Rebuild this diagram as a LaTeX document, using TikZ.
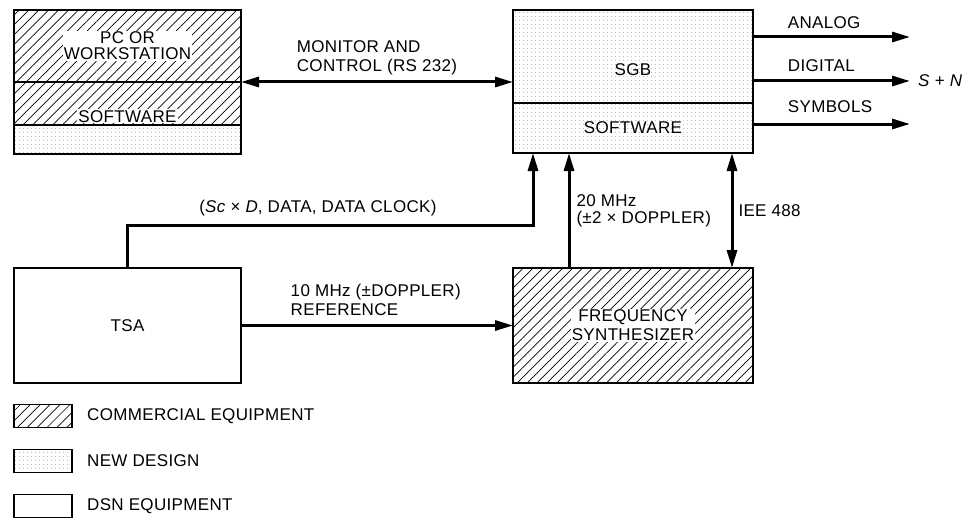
\documentclass[tikz,border=0pt]{standalone}
\usepackage{fontspec}
\setmainfont{Liberation Sans}[LetterSpace=2]
\usetikzlibrary{positioning,patterns.meta,arrows.meta}

\begin{document}
\begin{tikzpicture}[x=1pt, y=-1pt, font=\fontsize{17}{19}\selectfont,
    >={Triangle[length=18pt, width=10pt]},
    box/.style={rectangle, draw=black, line width=1.3pt, inner sep=0pt, outer sep=0pt},
    commbox/.style={box, pattern={Lines[angle=45, distance=7pt, line width=0.7pt]}},
    newbox/.style={box, pattern={Dots[distance=4pt, radius=0.5pt]}, pattern color=black!45},
    dsnbox/.style={box, fill=white},
    knock/.style={fill=white, inner sep=1pt, align=center},
    lbl/.style={inner sep=2pt, align=left},
    link/.style={line width=3pt},]
    \useasboundingbox (0,0) rectangle (973,524);
    % nodes
    \node[commbox, minimum width=227pt, minimum height=72pt]                    (pc)     at (127.5,46) {};
    \node[commbox, minimum width=227pt, minimum height=43pt, below=0pt of pc]   (pcsw)   {};
    \node[newbox,  minimum width=227pt, minimum height=29pt, below=0pt of pcsw] (pcnew)  {};
    \node[knock]                                  (pctext)   at (pc)                       {PC OR\\[-3pt]WORKSTATION};
    \node[knock, anchor=south]                    (pcswtext) at ([yshift=1.5pt]pcsw.south) {SOFTWARE};
    \node[newbox,  minimum width=240pt, minimum height=93pt]                    (sgb)    at (633,56.5) {};
    \node[newbox,  minimum width=240pt, minimum height=50pt, below=0pt of sgb]  (sgbsw)  {SOFTWARE};
    \node                                         (sgbtext)  at ([yshift=-13pt]sgb.center) {SGB};
    \node[dsnbox,  minimum width=227pt, minimum height=115pt]                   (tsa)    at (127.5,325.5) {TSA};
    \node[commbox, minimum width=240pt, minimum height=115pt]                   (fs)     at (633,325.5) {};
    \node[knock]                                  (fstext)   at (fs)                       {FREQUENCY\\SYNTHESIZER};
    % free ends
    \coordinate (analog)  at (910,37);
    \coordinate (digital) at (910,81);
    \coordinate (symbols) at (910,124);
    \coordinate (datain)  at (533,225);
    % lines
    \draw[link, <->] (pc.south east) -- (pc.south east -| sgb.west)
        node[lbl, midway, above=3pt] {MONITOR AND\\CONTROL (RS 232)};
    \draw[link, ->] (analog -| sgb.east) -- (analog)
        node[lbl, pos=0.2, anchor=south west, yshift=5pt] {ANALOG};
    \draw[link, ->] (digital -| sgb.east) -- (digital)
        node[lbl, pos=0.2, anchor=south west, yshift=6pt] {DIGITAL};
    \draw[link, ->] (symbols -| sgb.east) -- (symbols)
        node[lbl, pos=0.2, anchor=south west, yshift=8pt] {SYMBOLS};
    \node[lbl, anchor=west] (sn) at ([xshift=6pt]digital) {\textit{S} + \textit{N}};
    \draw[link, ->] (tsa.north) |- (datain) -- (datain |- sgbsw.south);
    \node[lbl] (datalbl) at (318,208) {(\textit{Sc} × \textit{D}, DATA, DATA CLOCK)};
    \draw[link, ->] ([xshift=-64pt]fs.north) -- ([xshift=-64pt]fs.north |- sgbsw.south)
        node[lbl, midway, right=4pt] {20 MHz\\[-2pt](±2 × DOPPLER)};
    \draw[link, <->] ([xshift=99pt]fs.north) -- ([xshift=99pt]fs.north |- sgbsw.south)
        node[lbl, midway, right=3pt] {IEE 488};
    \draw[link, ->] (tsa.east) -- (fs.west)
        node[lbl, pos=0.17, anchor=south west, yshift=6pt] {10 MHz (±DOPPLER)\\REFERENCE};
    % key
    \node[commbox, minimum width=58pt, minimum height=23pt]                       (keycomm) at (43,416) {};
    \node[newbox,  minimum width=58pt, minimum height=23pt, below=22pt of keycomm] (keynew)  {};
    \node[dsnbox,  minimum width=58pt, minimum height=23pt, below=22pt of keynew]  (keydsn)  {};
    \node[lbl, right=13pt of keycomm] (keycommtext) {COMMERCIAL EQUIPMENT};
    \node[lbl, right=13pt of keynew]  (keynewtext)  {NEW DESIGN};
    \node[lbl, right=13pt of keydsn]  (keydsntext)  {DSN EQUIPMENT};
\end{tikzpicture}
\end{document}
